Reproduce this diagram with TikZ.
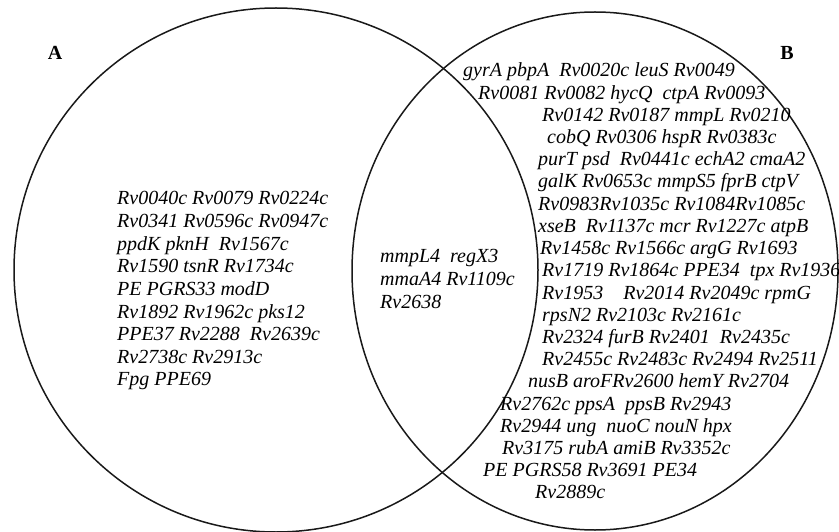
\documentclass[tikz,border=0pt]{standalone}
\usepackage{fontspec}
\setmainfont{Liberation Serif}
\begin{document}
\begin{tikzpicture}[x=1pt,y=-1pt,
  setline/.style={draw=black!90,line width=1.5pt},
  gene/.style={anchor=base west,inner sep=0pt,font=\fontsize{20}{22}\selectfont\itshape},
  setlabel/.style={anchor=base,inner sep=0pt,font=\fontsize{20}{22}\selectfont\bfseries}]
\useasboundingbox (0,0) rectangle (839,532);

% the two sets
\draw[setline] (276,270) circle [radius=262];
\draw[setline] (595,271) ellipse [x radius=243,y radius=259];

\node[setlabel] (labA) at (55,60) {A};
\node[setlabel] (labB) at (787,60) {B};

% genes only in A
\foreach \t [count=\i] in {
  Rv0040c Rv0079 Rv0224c,
  Rv0341 Rv0596c Rv0947c,
  ppdK pknH\ \ Rv1567c,
  Rv1590 tsnR Rv1734c,
  PE PGRS33 modD,
  Rv1892 Rv1962c pks12,
  PPE37 Rv2288\ \ Rv2639c,
  Rv2738c Rv2913c,
  Fpg PPE69}
  \node[gene] (a\i) at (117,{205+22.6*(\i-1)}) {\t};

% genes shared by A and B
\foreach \t [count=\i] in {
  mmpL4\ \ regX3,
  mmaA4 Rv1109c,
  Rv2638}
  \node[gene] (c\i) at (380,{262+23*(\i-1)}) {\t};

% genes only in B
\foreach \x/\t [count=\i] in {
  463/gyrA pbpA\ \ Rv0020c leuS Rv0049,
  478/Rv0081 Rv0082 hycQ\ \ ctpA Rv0093,
  542/Rv0142 Rv0187 mmpL Rv0210,
  547/cobQ Rv0306 hspR Rv0383c,
  538/purT psd\ \ Rv0441c echA2 cmaA2,
  538/galK Rv0653c mmpS5 fprB ctpV,
  538/Rv0983Rv1035c Rv1084Rv1085c,
  538/xseB\ \ Rv1137c mcr Rv1227c atpB,
  540/Rv1458c Rv1566c argG Rv1693,
  542/Rv1719 Rv1864c PPE34\ \ tpx Rv1936,
  542/Rv1953\hspace{20pt}Rv2014 Rv2049c rpmG,
  542/rpsN2 Rv2103c Rv2161c,
  542/Rv2324 furB Rv2401\ \ Rv2435c,
  542/Rv2455c Rv2483c Rv2494 Rv2511,
  528/nusB aroFRv2600 hemY Rv2704,
  500/Rv2762c ppsA\ \ ppsB Rv2943,
  500/Rv2944 ung\ \ nuoC nouN hpx,
  502/Rv3175 rubA amiB Rv3352c,
  483/PE PGRS58 Rv3691 PE34,
  535/Rv2889c}
  \node[gene] (b\i) at (\x,{77+22.2*(\i-1)}) {\t};
\end{tikzpicture}
\end{document}
